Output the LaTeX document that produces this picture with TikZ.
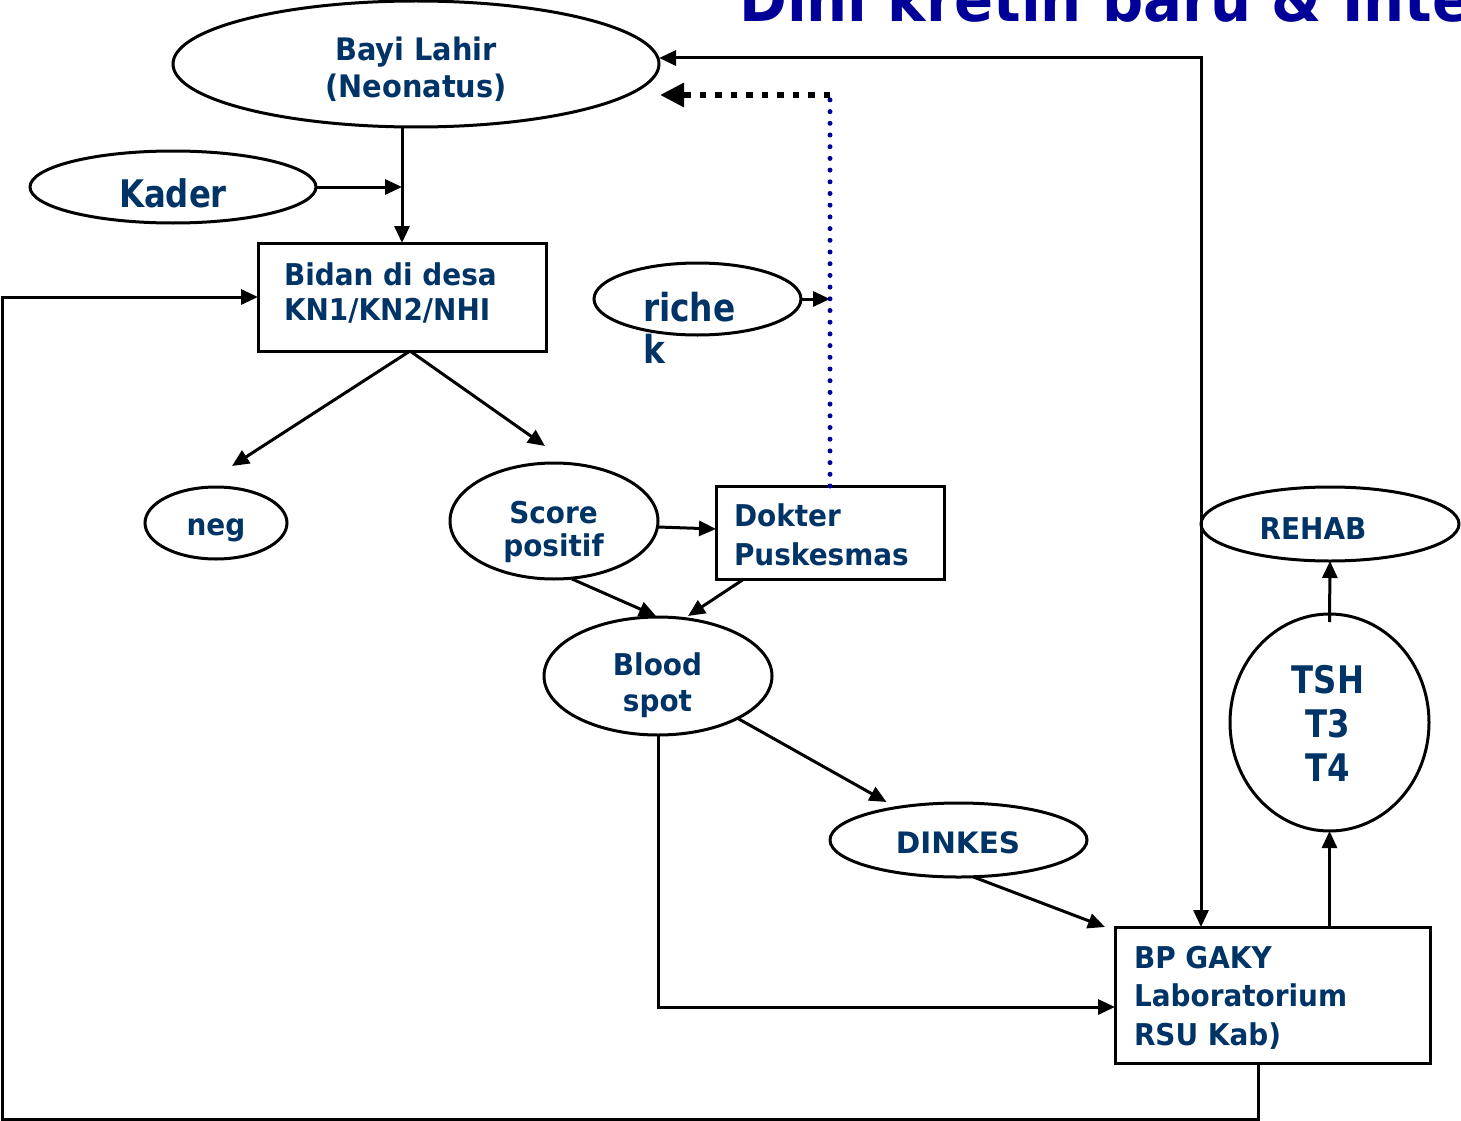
\documentclass[tikz,border=0pt]{standalone}
\usepackage{fontspec}
\usetikzlibrary{shapes.geometric,arrows.meta,calc}
\newfontfamily\fN{DejaVu Sans}[FakeStretch=0.93]
\newfontfamily\fW{DejaVu Sans}
\newfontfamily\fB{DejaVu Sans}[FakeStretch=0.85]
\definecolor{txt}{HTML}{003366}
\definecolor{ttl}{HTML}{000099}
\definecolor{dotblue}{HTML}{00009A}
\begin{document}
\begin{tikzpicture}[x=1pt,y=-1pt,
  >={Triangle[length=17pt,width=15pt]},
  shp/.style={draw=black, line width=3pt, inner sep=0pt, outer sep=0pt},
  ell/.style={shp, ellipse},
  box/.style={shp, rectangle},
  lbl/.style={inner sep=0pt, outer sep=0pt, text=txt, font=\fN\bfseries\fontsize{30}{36}\selectfont},
  con/.style={line width=3pt, ->},
  bdot/.style={draw=dotblue, line width=5pt, line cap=round, dash pattern=on 0pt off 11.7pt},
  kdot/.style={line width=6.5pt, dash pattern=on 6.5pt off 9pt, -{Triangle[length=24pt,width=23pt]}}]
\useasboundingbox (0,0) rectangle (1461,1121);
\clip (0,0) rectangle (1461,1121);

% title (cut off at the edge, as in the original)
\node[inner sep=0pt, anchor=base west, text=ttl, font=\fN\bfseries\fontsize{62}{70}\selectfont] (ttitle) at (739,22) {Dini kretin baru \& Inte};

% shapes
\node[ell, minimum width=486pt, minimum height=126pt] (bayi) at (416,64) {};
\node[ell, minimum width=286pt, minimum height=72pt] (kader) at (173,187) {};
\node[box, minimum width=288pt, minimum height=108pt] (bidan) at (402,297) {};
\node[ell, minimum width=207pt, minimum height=72pt] (riche) at (697.5,299) {};
\node[ell, minimum width=142pt, minimum height=72pt] (neg) at (216,523) {};
\node[ell, minimum width=208pt, minimum height=116pt] (score) at (554,521) {};
\node[box, minimum width=228pt, minimum height=93pt] (dokter) at (830,532.5) {};
\node[ell, minimum width=228pt, minimum height=118pt] (blood) at (658,676) {};
\node[ell, minimum width=257pt, minimum height=74pt] (dinkes) at (958.5,840) {};
\node[box, minimum width=315pt, minimum height=136pt] (bp) at (1272.5,995) {};
\node[ell, minimum width=199pt, minimum height=217pt] (tsh) at (1329.5,722.5) {};
\node[ell, minimum width=258pt, minimum height=74pt] (rehab) at (1330,524) {};

% texts (anchor base = baseline of the last line)
\node[lbl, font=\fN\bfseries\fontsize{31}{37.5}\selectfont, align=center, anchor=base] (tbayi) at (416,98) {Bayi Lahir\\(Neonatus)};
\node[lbl, font=\fB\bfseries\fontsize{38}{42}\selectfont, anchor=base] (tkader) at (173,207.3) {Kader};
\node[lbl, font=\fN\bfseries\fontsize{30}{35.5}\selectfont, align=left, anchor=base west] (tbidan) at (284,320.5) {Bidan di desa\\KN1/KN2/NHI};
\node[lbl, font=\fB\bfseries\fontsize{38.6}{42.3}\selectfont, align=left, anchor=base west] (triche) at (643,363.3) {riche\\k};
\node[lbl, anchor=base] (tneg) at (216,535) {neg};
\node[lbl, font=\fN\bfseries\fontsize{30}{33.5}\selectfont, align=center, anchor=base] (tscore) at (553.5,556.8) {Score\\positif};
\node[lbl, font=\fN\bfseries\fontsize{30}{38.3}\selectfont, align=left, anchor=base west] (tdokter) at (734,565) {Dokter\\Puskesmas};
\node[lbl, font=\fN\bfseries\fontsize{30}{36.7}\selectfont, align=center, anchor=base] (tblood) at (657.5,711.7) {Blood\\spot};
\node[lbl, font=\fW\bfseries\fontsize{29.5}{36}\selectfont, anchor=base] (tdinkes) at (958,853.3) {DINKES};
\node[lbl, font=\fN\bfseries\fontsize{30}{38.3}\selectfont, align=left, anchor=base west] (tbp) at (1134,1045) {BP GAKY\\Laboratorium\\RSU Kab)};
\node[lbl, font=\fB\bfseries\fontsize{38}{44.3}\selectfont, align=center, anchor=base] (ttsh) at (1328,781.7) {TSH\\T3\\T4};
\node[lbl, anchor=base] (trehab) at (1313,539) {REHAB};

% helper coordinates
\coordinate (dc) at (830,95);
\coordinate (loopbl) at (2,1119);

% connectors
\draw[con] (bayi.south -| bidan.north) -- (bidan.north);
\draw[con] (kader.east) -- (kader.east -| bidan.north);
\draw[con] ($(bp.south)+(-14.5,0)$) |- (loopbl) |- (bidan.west);
\draw[con] ($(bidan.south)+(8,0)$) -- ($(neg.north)+(16,-21)$);
\draw[con] ($(bidan.south)+(8,0)$) -- ($(score.north)+(-9,-17)$);
\draw[con] ($(score.east)+(0,6)$) -- ($(dokter.west)+(0,-3.5)$);
\draw[con] ($(score.south)+(18,0)$) -- ($(blood.north)+(-2,-1)$);
\draw[con] ($(dokter.south west)+(28,0)$) -- ($(blood.north)+(30,-1)$);
\draw[con] (blood.-28.6) -- ($(dinkes.north)+(-72,-1)$);
\draw[con] ($(dinkes.south)+(15,0)$) -- ($(bp.north west)+(-10,0)$);
\draw[con] (blood.south) |- ($(bp.west)+(0,12)$);
\draw[con] (tsh.south |- bp.north) -- (tsh.south);
\draw[con] ($(tsh.north)+(0,8)$) -- (rehab.south);
\draw[con, <->] ($(bayi.east)+(0,-6)$) -| ($(bp.north west)+(86,0)$);
\draw[con] (riche.east) -- (riche.east -| dc);
\draw[bdot] (dokter.north) -- (dc);
\draw[kdot] (dc) -- ($(bayi.east)+(1,31)$);
\end{tikzpicture}
\end{document}
